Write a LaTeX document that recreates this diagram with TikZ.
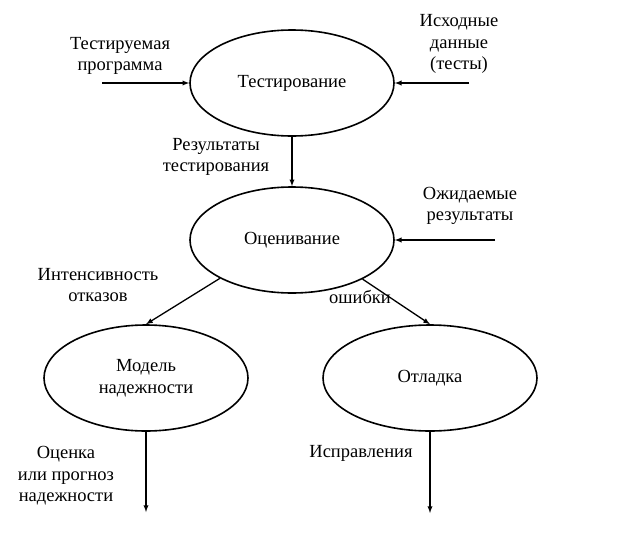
\documentclass[tikz,border=0pt]{standalone}
\usepackage{fontspec}
\setmainfont{Liberation Serif}
\usetikzlibrary{arrows,shapes.geometric}

\tikzset{
  proc/.style={draw, ellipse, line width=1.6pt, inner sep=0pt,
    minimum width=204pt, minimum height=106pt, align=center},
  lbl/.style={align=center, inner sep=0pt},
  flow/.style={-latex, line width=1.3pt},
}

\begin{document}
\begin{tikzpicture}[x=1pt, y=-1pt, font=\fontsize{18.5}{21.5}\selectfont]
    \useasboundingbox (0,0) rectangle (618,533);
    % processes
    \node[proc] (test) at (292,83) {Тестирование};
    \node[proc] (eval) at (292,240) {Оценивание};
    \node[proc] (model) at (146,378) {Модель\\надежности};
    \node[proc, minimum width=214pt] (debug) at (430,378) {Отладка};
    % free ends
    \coordinate (progin) at (102,83);
    \coordinate (datain) at (469,83);
    \coordinate (expin) at (495,240);
    \coordinate (modelout) at (146,512);
    \coordinate (debugout) at (430,513);
    % arrows
    \draw[flow] (progin) -- (test);
    \draw[flow] (datain) -- (test);
    \draw[flow] (test) -- (eval);
    \draw[flow] (expin) -- (eval);
    \draw[flow] (eval.208) -- (model.north);
    \draw[flow] (eval.331) -- (debug.north);
    \draw[flow] (model) -- (modelout);
    \draw[flow] (debug) -- (debugout);
    % labels
    \node[lbl] (l1) at (120,56) {Тестируемая\\программа};
    \node[lbl] (l2) at (459,44) {Исходные\\данные\\(тесты)};
    \node[lbl] (l3) at (216,157) {Результаты\\тестирования};
    \node[lbl] (l4) at (470,206) {Ожидаемые\\результаты};
    \node[lbl] (l5) at (98,285) {Интенсивность\\отказов};
    \node[lbl] (l6) at (360,297) {ошибки};
    \node[lbl] (l7) at (66,476) {Оценка\\или прогноз\\надежности};
    \node[lbl] (l8) at (361,453) {Исправления};
\end{tikzpicture}
\end{document}
